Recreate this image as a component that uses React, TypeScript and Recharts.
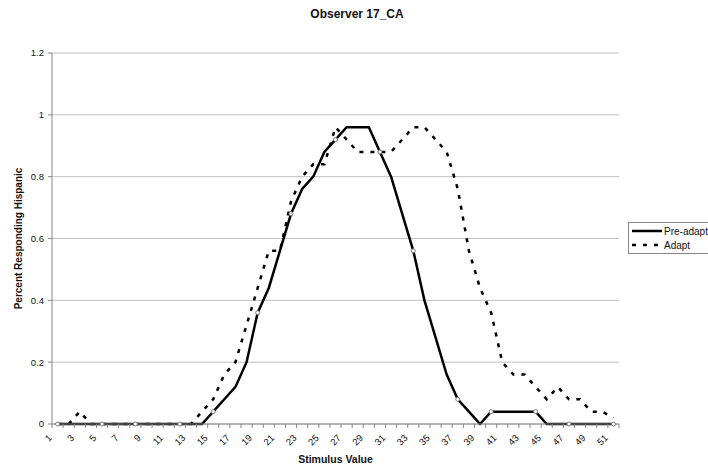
import { LineChart, Line, XAxis, YAxis, CartesianGrid, Legend } from "recharts";

const stimulus = [
  "1", "2", "3", "4", "5", "6", "7", "8", "9", "10",
  "11", "12", "13", "14", "15", "16", "17", "18", "19", "20",
  "21", "22", "23", "24", "25", "26", "27", "28", "29", "30",
  "31", "32", "33", "34", "35", "36", "37", "38", "39", "40",
  "41", "42", "43", "44", "45", "46", "47", "48", "49", "50", "51",
];

const preAdapt = [
  0, 0, 0, 0, 0, 0, 0, 0, 0, 0,
  0, 0, 0, 0, 0.04, 0.08, 0.12, 0.2, 0.36, 0.44,
  0.56, 0.68, 0.76, 0.8, 0.88, 0.92, 0.96, 0.96, 0.96, 0.88,
  0.8, 0.68, 0.56, 0.4, 0.28, 0.16, 0.08, 0.04, 0, 0.04,
  0.04, 0.04, 0.04, 0.04, 0, 0, 0, 0, 0, 0, 0,
];

const adapt = [
  0, 0, 0.04, 0, 0, 0, 0, 0, 0, 0,
  0, 0, 0, 0.04, 0.08, 0.16, 0.2, 0.32, 0.44, 0.56,
  0.56, 0.72, 0.8, 0.84, 0.84, 0.96, 0.92, 0.88, 0.88, 0.88,
  0.88, 0.92, 0.96, 0.96, 0.92, 0.88, 0.76, 0.56, 0.44, 0.36,
  0.2, 0.16, 0.16, 0.12, 0.08, 0.12, 0.08, 0.08, 0.04, 0.04, 0.02,
];

// the old sheet only drew the little open markers on some of the pre-adapt points
const markedStimuli = ["1", "5", "8", "12", "15", "19", "22", "26", "30", "33", "37", "40", "44", "47", "51"];

const yTicks = [0, 0.2, 0.4, 0.6, 0.8, 1, 1.2];

const series = [
  { key: "pre", name: "Pre-adapt", dash: undefined as string | undefined },
  { key: "adapt", name: "Adapt", dash: "4 7" },
];

const data = stimulus.map((s, i) => ({ stimulus: s, pre: preAdapt[i], adapt: adapt[i] }));

const PLOT_LEFT = 52;
const PLOT_RIGHT = 619;
const HALF_BAND = (PLOT_RIGHT - PLOT_LEFT) / stimulus.length / 2;
const AXIS = "#868686";
const FONT = '"Liberation Sans", Arial, sans-serif';

function StimulusTick(props: any) {
  const { x, y, payload } = props;
  const showLabel = Number(payload.value) % 2 === 1;
  const last = payload.value === stimulus[stimulus.length - 1];
  const lx = x - 5;
  const ly = y + 14.5;
  return (
    <g>
      <line x1={x - HALF_BAND} x2={x - HALF_BAND} y1={y} y2={y + 4} stroke={AXIS} />
      {last && <line x1={x + HALF_BAND} x2={x + HALF_BAND} y1={y} y2={y + 4} stroke={AXIS} />}
      {showLabel && (
        <text
          x={lx}
          y={ly}
          transform={`rotate(-45 ${lx} ${ly})`}
          textAnchor="end"
          fontSize={9.5}
          fontFamily={FONT}
          fill="#111"
        >
          {payload.value}
        </text>
      )}
    </g>
  );
}

const renderMarker = (props: any) => {
  const { cx, cy, payload, index } = props;
  if (!markedStimuli.includes(payload.stimulus)) return <g key={`m-${index}`} />;
  return <circle key={`m-${index}`} cx={cx} cy={cy} r={2} fill="#fff" stroke="#7a7a7a" strokeWidth={1} />;
};

function SeriesLegend() {
  return (
    <div
      style={{
        border: `1px solid ${AXIS}`,
        background: "#fff",
        padding: "1px 0 1px 3px",
        fontFamily: FONT,
        fontSize: 10,
        color: "#111",
      }}
    >
      {series.map((s) => (
        <div key={s.key} style={{ display: "flex", alignItems: "center", height: 14 }}>
          <svg width={30} height={6} style={{ display: "block" }}>
            <line x1={0} x2={30} y1={3} y2={3} stroke="#000" strokeWidth={2.5} strokeDasharray={s.dash} />
          </svg>
          <span style={{ marginLeft: 2, whiteSpace: "nowrap" }}>{s.name}</span>
        </div>
      ))}
    </div>
  );
}

export default function App() {
  return (
    <div
      style={{
        position: "absolute",
        left: 0,
        top: 0,
        width: 708,
        height: 468,
        background: "#fff",
        overflow: "hidden",
        fontFamily: FONT,
      }}
    >
      <div
        style={{
          position: "absolute",
          left: 257,
          top: 8,
          width: 200,
          textAlign: "center",
          fontSize: 12,
          lineHeight: "12px",
          fontWeight: "bold",
          color: "#111",
        }}
      >
        Observer 17_CA
      </div>
      <LineChart width={708} height={468} data={data} margin={{ top: 53, right: 708 - PLOT_RIGHT, left: 0, bottom: 0 }}>
        <CartesianGrid stroke="#c0c0c0" vertical={false} />
        <XAxis
          dataKey="stimulus"
          interval={0}
          height={44}
          tickLine={false}
          tickSize={0}
          tickMargin={0}
          padding={{ left: HALF_BAND, right: HALF_BAND }}
          stroke={AXIS}
          tick={(p: any) => <StimulusTick {...p} />}
          label={{
            value: "Stimulus Value",
            position: "insideBottom",
            offset: 5,
            style: { fontSize: 10.5, fontWeight: "bold", fill: "#111", fontFamily: FONT },
          }}
        />
        <YAxis
          width={PLOT_LEFT}
          domain={[0, 1.2]}
          ticks={yTicks}
          interval={0}
          tickSize={4}
          tickMargin={4}
          stroke={AXIS}
          tick={{ fill: "#111", fontSize: 9.5, fontFamily: FONT }}
          tickFormatter={(v: number) => String(v)}
          label={{
            value: "Percent Responding Hispanic",
            angle: -90,
            position: "insideLeft",
            offset: 18.5,
            style: { textAnchor: "middle", fontSize: 10, fontWeight: "bold", fill: "#111", fontFamily: FONT },
          }}
        />
        <Legend
          layout="horizontal"
          align="center"
          verticalAlign="middle"
          wrapperStyle={{ left: 628, top: 222, width: 100, height: 32 }}
          content={() => <SeriesLegend />}
        />
        <Line
          dataKey="pre"
          name="Pre-adapt"
          stroke="#000"
          strokeWidth={2.5}
          dot={renderMarker}
          activeDot={false}
          isAnimationActive={false}
        />
        <Line
          dataKey="adapt"
          name="Adapt"
          stroke="#000"
          strokeWidth={2.5}
          strokeDasharray="4 7"
          dot={false}
          activeDot={false}
          isAnimationActive={false}
        />
      </LineChart>
    </div>
  );
}
